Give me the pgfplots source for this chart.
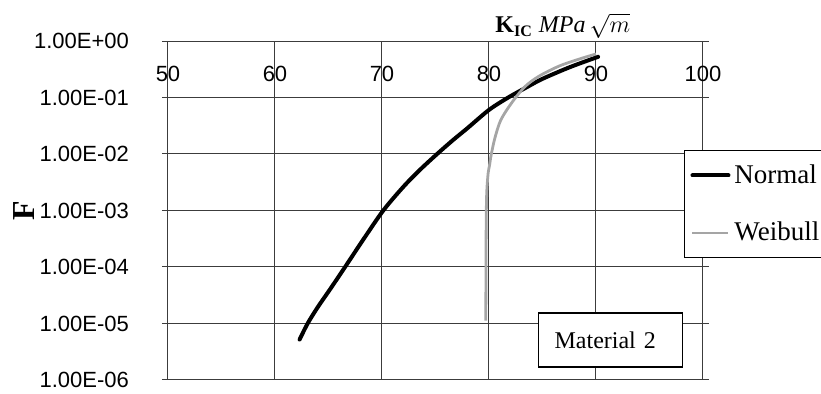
\documentclass[border=0pt]{standalone}
\usepackage{pgfplots}
\pgfplotsset{compat=1.18}
\usepackage{fontspec}
\setmainfont{Liberation Serif}
\newfontfamily\arial{Liberation Sans}
\definecolor{gridc}{RGB}{60,60,60}
\definecolor{wbl}{RGB}{165,165,165}
\begin{document}
\begin{tikzpicture}
\useasboundingbox (-84pt,-7pt) rectangle (326.5pt,190pt);
\clip (-84pt,-7pt) rectangle (326.5pt,190pt);
\begin{axis}[
  width=267.5pt, height=169.5pt, scale only axis,
  xmin=50, xmax=100, ymode=log, ymin=1e-6, ymax=1,
  xtick={50,60,70,80,90,100},
  ytick={1e-6,1e-5,1e-4,1e-3,1e-2,1e-1,1},
  yticklabels={1.00E-06,1.00E-05,1.00E-04,1.00E-03,1.00E-02,1.00E-01,1.00E+00},
  xticklabel pos=upper,
  xticklabel style={anchor=north, yshift=-11.8pt, font=\arial\fontsize{11}{13}\selectfont},
  yticklabel style={anchor=east, xshift=-13pt, font=\arial\fontsize{11}{13}\selectfont},
  /pgf/number format/assume math mode=true,
  grid=major,
  major grid style={draw=gridc, line width=0.5pt},
  axis line style={draw=gridc, line width=0.5pt},
  xtick style={draw=none},
  ytick style={draw=gridc, line width=0.5pt},
  tick align=outside, major tick length=3pt,
  minor tick num=0, yminorticks=false,
  log basis y=10,
  xlabel style={at={(rel axis cs:0.738,1.025)}, anchor=base, yshift=0pt},
  xlabel={\fontsize{12}{14}\selectfont\textbf{K}\textsubscript{\textbf{IC}} \textit{MPa}\,$\sqrt{m}$},
  every axis y label/.style={at={(rel axis cs:0,0.5)}, xshift=-72pt, rotate=90, anchor=center},
  ylabel={\fontsize{16}{18}\selectfont\textbf{F}},
  legend style={at={(rel axis cs:0.9645,0.6785)}, anchor=north west, draw=black, line width=0.5pt,
    fill=white, font=\fontsize{13.5}{15}\selectfont, row sep=14pt, inner xsep=3pt, inner ysep=5pt},
  legend cell align=left,
  legend image code/.code={\draw[#1] (0pt,0pt) -- (18pt,0pt);},
]
\addplot[black, line width=2pt, line cap=round, smooth, tension=0.5] table {
x y
62.3 5.2e-6
63.05 1.0e-5
64.0 1.95e-5
65.2 4.17e-5
66.55 1.0e-4
68.3 3.16e-4
70.12 1.0e-3
72.0 2.63e-3
73.55 5.25e-3
75.15 1.0e-2
76.6 1.74e-2
78.0 2.88e-2
80.0 6.03e-2
81.8 0.100
83.5 0.151
85.0 0.214
87.6 0.347
90.2 0.525
};
\addlegendentry{Normal}
\addplot[wbl, line width=1.4pt, smooth, tension=0.5] table {
x y
79.70 1.12e-5
79.71 3.16e-5
79.72 1.0e-4
79.73 3.16e-4
79.75 1.0e-3
79.80 2.29e-3
79.92 4.57e-3
80.05 6.31e-3
80.2 9.55e-3
80.55 1.91e-2
81.1 3.98e-2
82.1 7.94e-2
83.35 0.155
84.7 0.240
86.6 0.363
88.6 0.490
90.0 0.589
};
\addlegendentry{Weibull}
\node[draw=black, line width=0.6pt, fill=white, anchor=west, minimum height=27pt,
  text width=56pt, inner xsep=8pt, align=left, font=\fontsize{12}{14}\selectfont]
  at (rel axis cs:0.6916,0.118) {Material 2};
\end{axis}
\end{tikzpicture}
\end{document}
